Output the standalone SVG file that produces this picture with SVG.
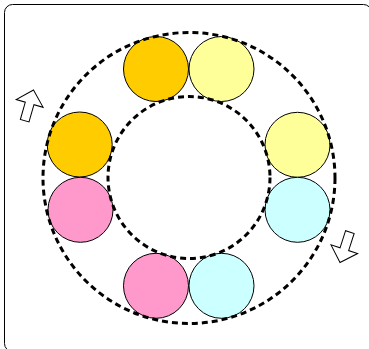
<svg xmlns="http://www.w3.org/2000/svg" width="369" height="349" viewBox="0 0 369 349">
<style>
.frame{fill:#fff;stroke:#000;stroke-width:1}
.ball{stroke:#000;stroke-width:1}
.ring{fill:none;stroke:#000;stroke-width:3;stroke-dasharray:6 4}
.arrow{fill:#fff;stroke:#000;stroke-width:1;stroke-linejoin:miter}
</style>
<defs>
<polygon id="arr" points="0,0 14,14 4.5,14 4.5,32 -4.5,32 -4.5,14 -14,14"/>
</defs>
<rect class="frame" x="4.5" y="4.5" width="367" height="347" rx="8"/>
<g id="n1"><circle class="ball" cx="156" cy="69" r="32.5" fill="#FFCC00"/></g>
<g id="n2"><circle class="ball" cx="221.5" cy="69" r="32.5" fill="#FFFF99"/></g>
<g id="n3"><circle class="ball" cx="297.5" cy="144.8" r="32.5" fill="#FFFF99"/></g>
<g id="n4"><circle class="ball" cx="297.5" cy="209.8" r="32.5" fill="#CCFFFF"/></g>
<g id="n5"><circle class="ball" cx="221.5" cy="285.8" r="32.5" fill="#CCFFFF"/></g>
<g id="n6"><circle class="ball" cx="156" cy="285.8" r="32.5" fill="#FF99CC"/></g>
<g id="n7"><circle class="ball" cx="80.5" cy="209.8" r="32.5" fill="#FF99CC"/></g>
<g id="n8"><circle class="ball" cx="79.7" cy="144.5" r="32.5" fill="#FFCC00"/></g>
<g id="connectors">
<ellipse class="ring" cx="189" cy="178" rx="146" ry="145.5"/>
<circle class="ring" cx="189" cy="177.5" r="81"/>
<use href="#arr" class="arrow" transform="translate(33.5,90) rotate(16)"/>
<use href="#arr" class="arrow" transform="translate(340,262.5) rotate(198)"/>
</g>
</svg>
